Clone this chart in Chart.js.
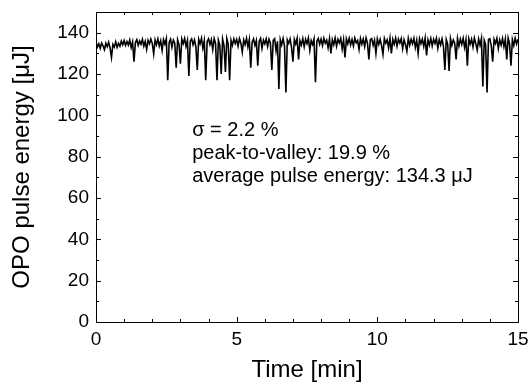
<!DOCTYPE html>
<html>
<head>
<meta charset="utf-8">
<script src="https://cdn.jsdelivr.net/npm/chart.js@4.4.1/dist/chart.umd.min.js"></script>
<style>
    body { margin: 0; background: #fff; }
    #wrap { width: 529px; height: 385px; }
</style>
</head>
<body>
<div id="wrap"><canvas id="energyChart" width="529" height="385"></canvas></div>
<script>
// Sampling step of the recorded trace (minutes)
const sampleStep = 0.05;

// Pulse energy readings [uJ], one row per minute (20 samples each)
const pulseEnergy = [
    135.2, 133.1, 134.6, 132.4, 135.0, 133.6, 131.8, 134.9, 133.2, 135.4, 132.6, 128.0, 134.3, 133.0, 135.6, 132.9, 134.8, 133.4, 135.9, 134.1,
    136.2, 133.8, 135.7, 134.0, 136.4, 132.8, 135.5, 126.0, 135.1, 136.6, 133.9, 136.0, 134.4, 136.8, 133.5, 135.8, 131.9, 136.3, 134.6, 136.9,
    134.8, 129.7, 136.5, 134.2, 137.0, 133.6, 136.1, 131.4, 136.7, 134.5, 137.1, 117.0, 135.3, 136.8, 133.0, 136.4, 134.9, 123.0, 136.6, 134.3,
    125.0, 136.9, 134.7, 137.2, 133.4, 136.2, 119.0, 135.9, 137.0, 134.1, 136.5, 133.2, 122.0, 136.8, 134.6, 137.3, 132.5, 136.1, 117.0, 135.6,
    137.0, 134.2, 136.6, 131.8, 137.1, 134.8, 117.0, 136.4, 134.0, 120.0, 136.9, 133.7, 121.0, 137.2, 134.5, 117.0, 136.3, 133.9, 137.0, 134.7,
    136.8, 133.5, 137.1, 134.9, 130.6, 136.5, 134.2, 137.3, 133.1, 136.7, 123.0, 135.4, 137.0, 133.8, 136.2, 124.0, 135.7, 137.2, 132.4, 136.4,
    134.6, 137.0, 133.3, 136.8, 134.9, 122.0, 136.3, 137.1, 131.2, 135.8, 112.7, 136.6, 134.1, 137.2, 133.6, 111.0, 136.5, 134.8, 137.0, 132.9,
    126.0, 136.7, 134.5, 137.3, 127.0, 136.1, 134.0, 137.1, 133.2, 136.8, 134.7, 137.4, 131.5, 136.2, 134.3, 137.0, 116.0, 135.9, 137.2, 134.4,
    136.9, 133.8, 137.3, 134.9, 136.4, 132.7, 137.1, 130.0, 136.6, 134.2, 137.4, 133.5, 136.8, 135.0, 137.2, 132.1, 136.5, 128.0, 137.0, 134.6,
    137.3, 134.1, 136.7, 133.6, 137.4, 135.1, 136.2, 131.9, 137.2, 134.5, 136.9, 133.3, 137.5, 134.8, 127.0, 136.6, 137.1, 133.9, 136.4, 130.0,
    137.0, 134.3, 136.8, 133.7, 129.5, 137.2, 134.9, 136.5, 132.6, 137.3, 130.0, 136.7, 134.4, 137.4, 133.5, 136.9, 135.0, 137.1, 132.3, 136.6,
    134.2, 131.0, 137.2, 133.9, 136.8, 134.6, 137.3, 132.8, 136.4, 130.0, 137.1, 134.7, 136.9, 133.4, 137.4, 129.0, 136.5, 134.0, 137.2, 133.6,
    136.8, 134.8, 137.3, 132.5, 136.6, 134.1, 137.0, 133.3, 122.0, 136.7, 134.4, 121.5, 137.1, 133.8, 136.5, 134.9, 127.0, 137.2, 133.5, 136.9,
    134.3, 137.3, 132.9, 136.6, 124.0, 137.0, 134.5, 136.8, 133.1, 137.4, 134.7, 131.6, 136.9, 133.9, 137.2, 114.0, 136.3, 134.2, 111.0, 136.7,
    137.1, 133.6, 126.0, 136.8, 134.8, 137.3, 132.4, 136.5, 134.0, 137.2, 133.2, 136.9, 127.0, 137.4, 134.6, 124.0, 136.6, 133.8, 137.3, 134.5,
    136.8
];

// Axis settings
const xMin = 0, xMax = 15, xMajor = 5, xMinor = 1;
const yMin = 0, yMax = 150, yMajor = 20, yMinor = 10;

// Annotation lines shown inside the plot
const noteLines = [
    'σ = 2.2 %',
    'peak-to-valley: 19.9 %',
    'average pulse energy: 134.3 μJ'
];
const notePos = { x: 3.42, y: 92.7 }; // data coords of first line

const timeLabels = pulseEnergy.map((v, i) => +(i * sampleStep).toFixed(2));

const fontFamily = '"Liberation Sans", Arial, sans-serif';

// Draws the box, inward ticks on all four sides and the text block
const frameAndTicks = {
    id: 'frameAndTicks',
    afterDatasetsDraw(chart) {
        const { ctx, chartArea: a, scales: { x, y } } = chart;
        ctx.save();
        ctx.strokeStyle = '#000';
        ctx.lineWidth = 1;
        ctx.strokeRect(Math.round(a.left) + 0.5, Math.round(a.top) + 0.5,
            Math.round(a.right - a.left), Math.round(a.bottom - a.top));

        ctx.beginPath();
        x.ticks.forEach(t => {
            const px = Math.round(x.getPixelForValue(t.value)) + 0.5;
            const len = t.value % xMajor === 0 ? 5 : 3;
            ctx.moveTo(px, a.bottom);
            ctx.lineTo(px, a.bottom - len);
            ctx.moveTo(px, a.top);
            ctx.lineTo(px, a.top + len);
        });
        y.ticks.forEach(t => {
            const py = Math.round(y.getPixelForValue(t.value)) + 0.5;
            const len = t.value % yMajor === 0 ? 5 : 3;
            ctx.moveTo(a.left, py);
            ctx.lineTo(a.left + len, py);
            ctx.moveTo(a.right, py);
            ctx.lineTo(a.right - len, py);
        });
        ctx.stroke();

        ctx.fillStyle = '#000';
        ctx.font = '20px ' + fontFamily;
        ctx.textBaseline = 'middle';
        const tx = x.getPixelForValue(notePos.x);
        const ty = y.getPixelForValue(notePos.y);
        noteLines.forEach((line, i) => ctx.fillText(line, tx, ty + i * 23));
        ctx.restore();
    }
};

const ctx = document.getElementById('energyChart').getContext('2d');

const energyChart = new Chart(ctx, {
    type: 'line',
    data: {
        labels: timeLabels,
        datasets: [{
            label: 'OPO pulse energy',
            data: pulseEnergy,
            borderColor: '#000',
            borderWidth: 1.6,
            pointRadius: 0,
            tension: 0,
            fill: false
        }]
    },
    options: {
        responsive: false,
        animation: false,
        events: [],
        layout: {
            padding: { left: 8, right: 11, top: 12, bottom: 0 }
        },
        plugins: {
            legend: { display: false },
            tooltip: { enabled: false }
        },
        scales: {
            x: {
                type: 'linear',
                min: xMin,
                max: xMax,
                afterFit: s => {
                    s.height = 63;
                    s.paddingLeft = 0;
                    s.paddingRight = 0;
                },
                grid: { display: false, drawTicks: false },
                border: { display: false },
                ticks: {
                    stepSize: xMinor,
                    autoSkip: false,
                    maxRotation: 0,
                    padding: 6,
                    color: '#000',
                    font: { family: fontFamily, size: 19 },
                    callback: v => (v % xMajor === 0 ? v : '')
                },
                title: {
                    display: true,
                    text: 'Time [min]',
                    color: '#000',
                    font: { family: fontFamily, size: 24 },
                    padding: { top: 0, bottom: 0 }
                }
            },
            y: {
                min: yMin,
                max: yMax,
                afterFit: s => {
                    s.width = 88;
                    s.paddingTop = 0;
                    s.paddingBottom = 0;
                },
                grid: { display: false, drawTicks: false },
                border: { display: false },
                ticks: {
                    stepSize: yMinor,
                    autoSkip: false,
                    padding: 7,
                    color: '#000',
                    font: { family: fontFamily, size: 19 },
                    callback: v => (v % yMajor === 0 ? v : '')
                },
                title: {
                    display: true,
                    text: 'OPO pulse energy [μJ]',
                    color: '#000',
                    font: { family: fontFamily, size: 24 },
                    padding: { top: 0, bottom: 0 }
                }
            }
        }
    },
    plugins: [frameAndTicks]
});
</script>
</body>
</html>
